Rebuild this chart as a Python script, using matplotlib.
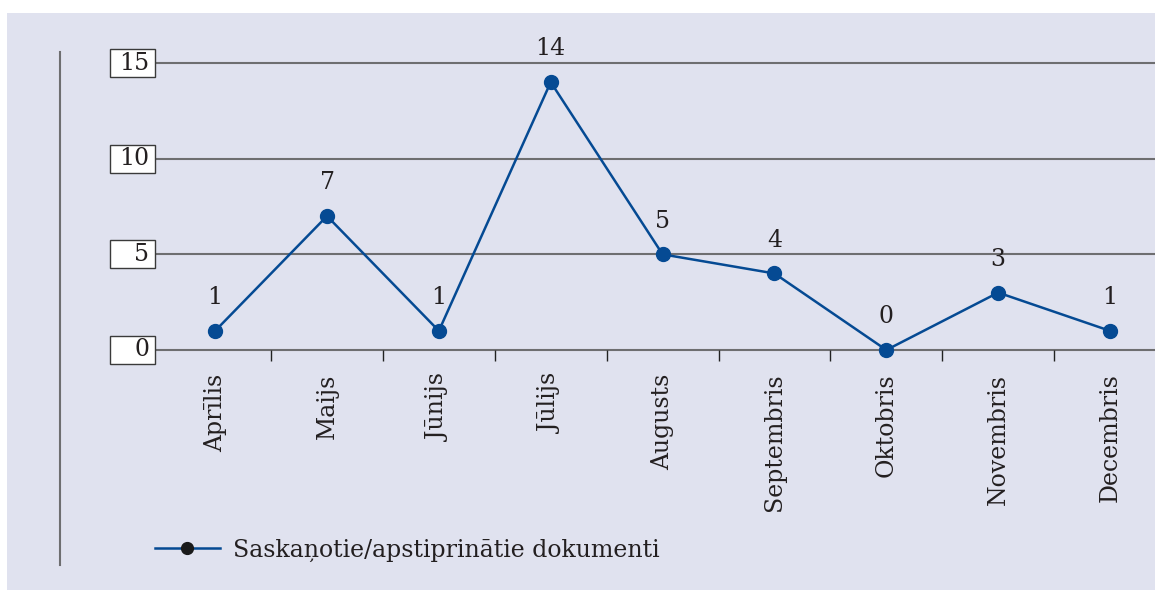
import matplotlib.pyplot as plt
from matplotlib.patches import Rectangle
import matplotlib.transforms as mtransforms

months = ["Aprīlis", "Maijs", "Jūnijs", "Jūlijs", "Augusts",
          "Septembris", "Oktobris", "Novembris", "Decembris"]
docs = [1, 7, 1, 14, 5, 4, 0, 3, 1]
yticks = [0, 5, 10, 15]
series_name = "Saskaņotie/apstiprinātie dokumenti"

plt.rcParams['font.family'] = ['DejaVu Serif']
bg = '#e0e2ef'
txt = '#231f20'
blue = '#054a93'
gray = '#6e6e70'
fs = 17

W, H = 1155, 590
fig = plt.figure(figsize=(W / 100, H / 100), dpi=100)
fig.patch.set_facecolor('white')

# lavender panel
fig.patches.append(Rectangle((7 / W, 0), 1, 1 - 13 / H, transform=fig.transFigure,
                             facecolor=bg, edgecolor='none', zorder=-10))
# left vertical rule
fig.add_artist(plt.Line2D([60 / W, 60 / W], [1 - 565 / H, 1 - 52 / H],
                          transform=fig.transFigure, color=gray, lw=1.5))

ax = fig.add_axes([159.2 / W, (H - 350) / H, (1166 - 159.2) / W, 287 / H])
ax.set_facecolor('none')
for s in ax.spines.values():
    s.set_visible(False)

x = list(range(len(months)))
ax.set_xlim(-0.5, len(months) - 0.5)
ax.set_ylim(0, 15)

# horizontal lines
for v in yticks:
    ax.axhline(v, xmin=-0.005, xmax=1, color=gray, lw=1.5, clip_on=False, zorder=1)

# boxed y labels
trans = mtransforms.blended_transform_factory(fig.transFigure, ax.transData)
box_h = 28 / 287 * 15
for v in yticks:
    ax.add_patch(Rectangle((110 / W, v - box_h / 2), 45 / W, box_h, transform=trans,
                           facecolor='white', edgecolor='#3a3a3a', lw=1, clip_on=False, zorder=3))
    ax.text(149 / W, v, str(v), transform=trans, ha='right', va='center',
            fontsize=fs, color=txt, zorder=4)

ax.plot(x, docs, color=blue, lw=1.8, marker='o', markersize=10, clip_on=False,
        zorder=5, label=series_name)
for xi, v in zip(x, docs):
    ax.annotate(str(v), (xi, v), xytext=(0, 24), textcoords='offset points',
                ha='center', va='center', fontsize=fs, color=txt)

ax.set_yticks([])
ax.set_xticks(x)
ax.set_xticklabels(months, rotation=90, fontsize=fs, color=txt, va='top')
ax.tick_params(axis='x', which='major', length=0, pad=17)
ax.set_xticks([i + 0.5 for i in x[:-1]], minor=True)
ax.tick_params(axis='x', which='minor', length=8, width=1, color='#222222', direction='out')

leg = fig.legend(loc='center left', bbox_to_anchor=(155 / W, 1 - 550 / H), frameon=False,
                 borderpad=0, borderaxespad=0, fontsize=fs, handlelength=2.75,
                 handletextpad=0.55, labelcolor=txt)
h = leg.legend_handles[0]
h.set_markerfacecolor('#1a1a1a')
h.set_markeredgecolor('#1a1a1a')
h.set_markersize(8.5)

fig.savefig('out.png', dpi=100, facecolor='white')
